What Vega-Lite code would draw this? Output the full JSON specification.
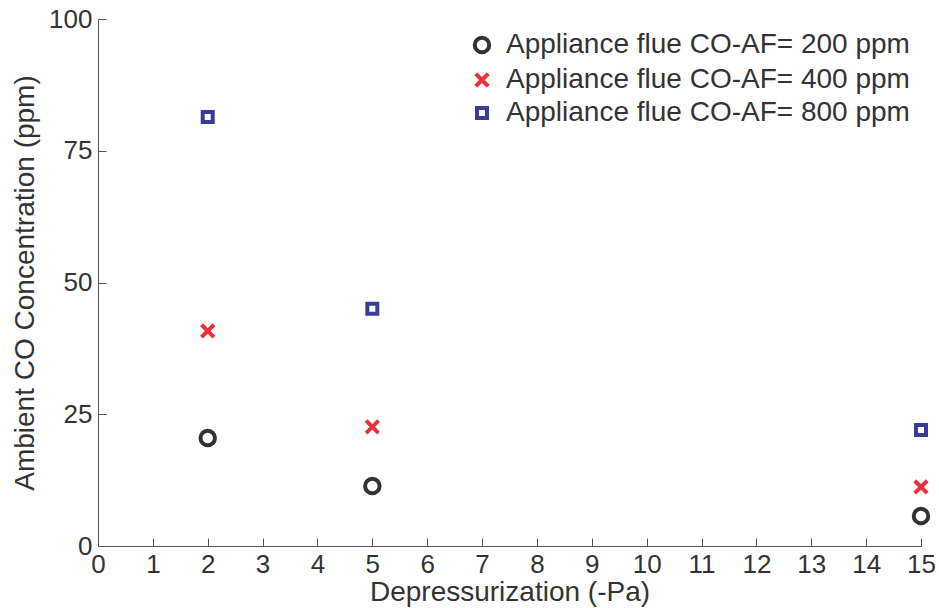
{
  "$schema": "https://vega.github.io/schema/vega-lite/v6.json",
  "width": 823,
  "height": 527,
  "autosize": {"type": "none"},
  "padding": {"left": 98, "top": 19, "right": 18, "bottom": 62},
  "background": "white",
  "config": {
    "view": {"stroke": null},
    "font": "Liberation Sans"
  },
  "data": {
    "values": [
      {"dp": 2, "co": 20.5, "series": "Appliance flue CO-AF= 200 ppm"},
      {"dp": 5, "co": 11.4, "series": "Appliance flue CO-AF= 200 ppm"},
      {"dp": 15, "co": 5.7, "series": "Appliance flue CO-AF= 200 ppm"},
      {"dp": 2, "co": 40.8, "series": "Appliance flue CO-AF= 400 ppm"},
      {"dp": 5, "co": 22.6, "series": "Appliance flue CO-AF= 400 ppm"},
      {"dp": 15, "co": 11.2, "series": "Appliance flue CO-AF= 400 ppm"},
      {"dp": 2, "co": 81.4, "series": "Appliance flue CO-AF= 800 ppm"},
      {"dp": 5, "co": 45.0, "series": "Appliance flue CO-AF= 800 ppm"},
      {"dp": 15, "co": 22.0, "series": "Appliance flue CO-AF= 800 ppm"}
    ]
  },
  "mark": {"type": "point", "filled": false, "strokeWidth": 4, "opacity": 1, "clip": false},
  "encoding": {
    "x": {
      "field": "dp", "type": "quantitative",
      "scale": {"domain": [0, 15], "nice": false, "zero": true},
      "axis": {
        "title": "Depressurization (-Pa)",
        "values": [0,1,2,3,4,5,6,7,8,9,10,11,12,13,14,15],
        "grid": false,
        "domainColor": "#555555", "tickColor": "#555555",
        "tickSize": -8, "labelPadding": 13,
        "labelFontSize": 26, "labelColor": "#333333",
        "labelFlush": false, "labelOverlap": false,
        "titleFontSize": 28, "titleFontWeight": "normal", "titleColor": "#333333",
        "titlePadding": 1
      }
    },
    "y": {
      "field": "co", "type": "quantitative",
      "scale": {"domain": [0, 100], "nice": false},
      "axis": {
        "title": "Ambient CO Concentration (ppm)",
        "values": [0, 25, 50, 75, 100],
        "grid": false,
        "domainColor": "#555555", "tickColor": "#555555",
        "tickSize": -8, "labelPadding": 14,
        "labelFontSize": 26, "labelColor": "#333333",
        "labelFlush": false,
        "titleFontSize": 28, "titleFontWeight": "normal", "titleColor": "#333333",
        "titleX": -73, "titleAngle": -90, "titleBaseline": "middle", "titleAlign": "center"
      }
    },
    "color": {
      "field": "series", "type": "nominal",
      "scale": {"range": ["#333333", "#e8313a", "#3a3c98"]},
      "legend": {
        "title": null, "orient": "none", "legendX": 370, "legendY": 12,
        "labelFontSize": 28, "labelColor": "#333333", "labelLimit": 600,
        "symbolStrokeWidth": 4, "rowPadding": 4, "labelOffset": 10
      }
    },
    "shape": {
      "field": "series", "type": "nominal",
      "scale": {"range": ["circle", "M-1,-1L1,1M1,-1L-1,1", "square"]}
    },
    "size": {
      "field": "series", "type": "nominal",
      "scale": {"range": [210, 100, 150]}
    }
  }
}
